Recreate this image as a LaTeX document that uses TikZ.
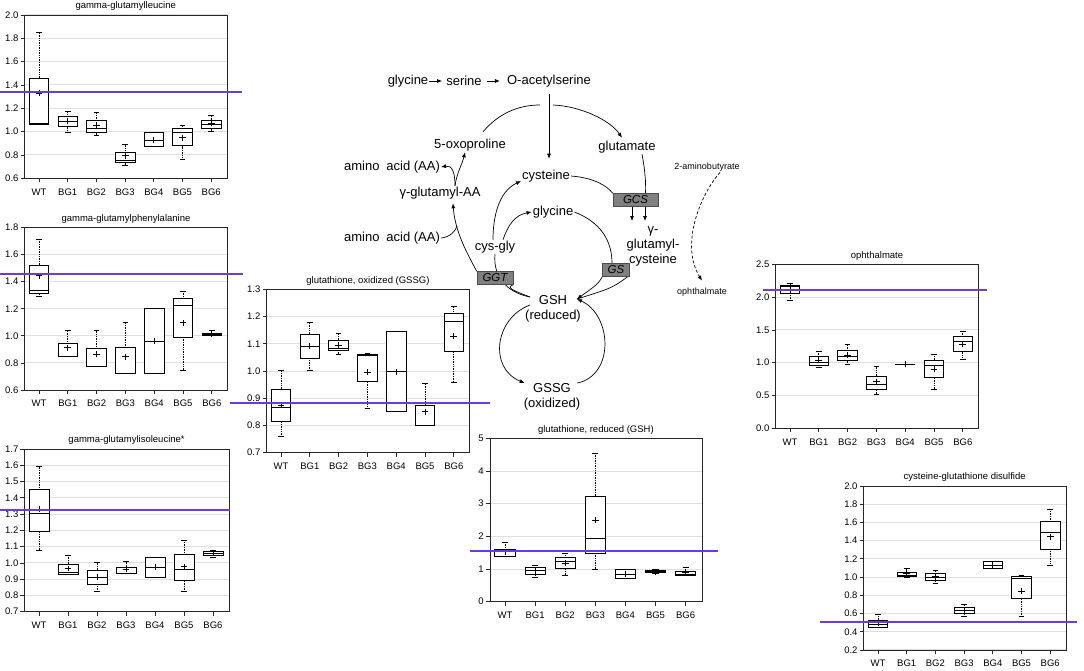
\documentclass[tikz,border=0pt]{standalone}
\usepackage{fontspec}
\setmainfont{Liberation Sans}
\usetikzlibrary{arrows.meta}
\definecolor{refline}{RGB}{105,60,225}
\definecolor{enzfill}{RGB}{128,128,128}
\pgfdeclarelayer{bg}
\pgfsetlayers{bg,main}

\tikzset{
  box/.style={line width=0.7pt},
  whisk/.style={line width=0.7pt, densely dotted},
  gline/.style={gray!25, line width=1pt},
  frm/.style={line width=0.8pt, black!85},
  ref/.style={draw=refline, line width=1.2pt},
  ylab/.style={anchor=east, inner xsep=6pt, inner ysep=0pt, font=\fontsize{9.5}{11}\selectfont},
  xlab/.style={anchor=north, inner ysep=10pt, inner xsep=0pt, font=\fontsize{9.5}{11}\selectfont},
  ctitle/.style={anchor=south, inner ysep=4pt, font=\fontsize{9.5}{11}\selectfont},
  met/.style={font=\fontsize{13}{15}\selectfont, inner sep=1pt, align=center},
  smet/.style={font=\fontsize{9}{11}\selectfont, inner sep=1pt},
  enz/.style={fill=enzfill, draw=black!70, minimum height=13pt, inner sep=0pt, font=\fontsize{11.5}{13}\selectfont\itshape},
  conn/.style={line width=0.7pt},
  arr/.style={conn, -{Latex[length=5pt,width=4pt]}},
}

% i, low, q1, median, q3, high, mean
\newcommand{\bp}[7]{%
  \draw[whisk] (#1,#2) -- (#1,#3) (#1,#5) -- (#1,#6);
  \draw[box] (#1-0.1,#2) -- (#1+0.1,#2) (#1-0.1,#6) -- (#1+0.1,#6);
  \draw[box, fill=white] (#1-0.34,#3) rectangle (#1+0.34,#5);
  \draw[box] (#1-0.34,#4) -- (#1+0.34,#4);
  \draw[box] (#1-0.12,#7) -- (#1+0.12,#7) (#1,#7-\ph) -- (#1,#7+\ph);
}
\newcommand{\yax}[1]{%
  \foreach \v [count=\k] in {#1} {
    \draw[gline] (-0.5,\v) -- (6.55,\v);
    \draw[frm] (-0.64,\v) -- (-0.5,\v);
    \node[ylab] (\cid y\k) at (-0.5,\v) {\v};
  }}
\newcommand{\xax}[1]{%
  \foreach \t [count=\k from 0] in {WT,BG1,BG2,BG3,BG4,BG5,BG6} {
    \draw[frm] (\k,#1) -- (\k,#1-1.3*\ph);
    \node[xlab] (\cid x\k) at (\k,#1) {\t};
  }}

\begin{document}
\begin{tikzpicture}[x=1pt,y=-1pt]
\useasboundingbox (0,0) rectangle (1084,670);

% gamma-glutamylleucine
\begin{scope}[shift={(39,248.3)},xscale=28.7,yscale=-116.7]
  \def\cid{ca}\def\ph{0.026}
  \yax{0.6,0.8,1.0,1.2,1.4,1.6,1.8,2.0}
  \draw[frm] (-0.5,0.6) rectangle (6.55,2.0);
  \xax{0.6}
  \node[ctitle] (cat) at (3.02,2.0) {gamma-glutamylleucine};
  \bp{0}{1.065}{1.065}{1.07}{1.46}{1.85}{1.33}
  \bp{1}{0.994}{1.043}{1.091}{1.129}{1.171}{1.09}
  \bp{2}{0.971}{0.997}{1.029}{1.094}{1.166}{1.057}
  \bp{3}{0.714}{0.734}{0.757}{0.823}{0.894}{0.794}
  \bp{4}{0.871}{0.871}{0.929}{0.991}{0.991}{0.929}
  \bp{5}{0.763}{0.880}{0.991}{1.029}{1.057}{0.949}
  \bp{6}{1.006}{1.031}{1.066}{1.1}{1.137}{1.071}
\end{scope}

% gamma-glutamylphenylalanine
\begin{scope}[shift={(39,471.4)},xscale=28.8,yscale=-135.6]
  \def\cid{cb}\def\ph{0.022}
  \yax{0.6,0.8,1.0,1.2,1.4,1.6,1.8}
  \draw[frm] (-0.5,0.6) rectangle (6.55,1.8);
  \xax{0.6}
  \node[ctitle] (cbt) at (3.02,1.8) {gamma-glutamylphenylalanine};
  \bp{0}{1.289}{1.313}{1.338}{1.522}{1.711}{1.443}
  \bp{1}{0.845}{0.845}{0.85}{0.944}{1.038}{0.912}
  \bp{2}{0.772}{0.772}{0.775}{0.907}{1.043}{0.863}
  \bp{3}{0.723}{0.723}{0.725}{0.912}{1.099}{0.846}
  \bp{4}{0.723}{0.723}{0.961}{1.202}{1.202}{0.961}
  \bp{5}{0.748}{0.989}{1.227}{1.276}{1.325}{1.096}
  \bp{6}{1.0}{1.0}{1.01}{1.02}{1.04}{1.01}
\end{scope}

% gamma-glutamylisoleucine*
\begin{scope}[shift={(39,725.6)},xscale=29,yscale=-162.7]
  \def\cid{cc}\def\ph{0.018}
  \yax{0.7,0.8,0.9,1.0,1.1,1.2,1.3,1.4,1.5,1.6,1.7}
  \draw[frm] (-0.5,0.7) rectangle (6.55,1.7);
  \xax{0.7}
  \node[ctitle] (cct) at (3.02,1.7) {gamma-glutamylisoleucine*};
  \bp{0}{1.079}{1.192}{1.305}{1.452}{1.595}{1.331}
  \bp{1}{0.93}{0.93}{0.94}{0.993}{1.044}{0.966}
  \bp{2}{0.823}{0.868}{0.911}{0.956}{1.001}{0.911}
  \bp{3}{0.936}{0.936}{0.938}{0.973}{1.011}{0.96}
  \bp{4}{0.911}{0.911}{0.973}{1.034}{1.034}{0.973}
  \bp{5}{0.823}{0.895}{0.962}{1.052}{1.141}{0.977}
  \bp{6}{1.034}{1.044}{1.059}{1.069}{1.075}{1.059}
\end{scope}

% glutathione, oxidized
\begin{scope}[shift={(281,643.2)},xscale=28.8,yscale=-272.2]
  \def\cid{cd}\def\ph{0.011}
  \yax{0.7,0.8,0.9,1.0,1.1,1.2,1.3}
  \draw[frm] (-0.5,0.7) rectangle (6.55,1.3);
  \xax{0.7}
  \node[ctitle] (cdt) at (3.02,1.3) {glutathione, oxidized (GSSG)};
  \bp{0}{0.759}{0.814}{0.867}{0.934}{1.004}{0.875}
  \bp{1}{1.001}{1.047}{1.092}{1.136}{1.179}{1.092}
  \bp{2}{1.062}{1.077}{1.085}{1.114}{1.138}{1.096}
  \bp{3}{0.863}{0.961}{1.058}{1.062}{1.065}{0.995}
  \bp{4}{0.85}{0.85}{0.997}{1.147}{1.147}{0.997}
  \bp{5}{0.80}{0.80}{0.80}{0.875}{0.955}{0.85}
  \bp{6}{0.96}{1.071}{1.181}{1.212}{1.239}{1.128}
\end{scope}

% glutathione, reduced
\begin{scope}[shift={(505,601.7)},xscale=30.1,yscale=-32.67]
  \def\cid{ce}\def\ph{0.092}
  \yax{0,1,2,3,4,5}
  \draw[frm] (-0.5,0) rectangle (6.55,5);
  \xax{0}
  \node[ctitle] (cet) at (3.02,5) {glutathione, reduced (GSH)};
  \bp{0}{1.378}{1.378}{1.40}{1.602}{1.806}{1.53}
  \bp{1}{0.735}{0.847}{0.97}{1.04}{1.122}{0.95}
  \bp{2}{0.816}{1.02}{1.224}{1.357}{1.48}{1.173}
  \bp{3}{1.0}{1.48}{1.939}{3.235}{4.54}{2.5}
  \bp{4}{0.714}{0.714}{0.847}{1.0}{1.0}{0.847}
  \bp{5}{0.867}{0.888}{0.918}{0.95}{0.98}{0.918}
  \bp{6}{0.80}{0.816}{0.85}{0.94}{1.04}{0.9}
\end{scope}

% ophthalmate
\begin{scope}[shift={(790,428.3)},xscale=28.8,yscale=-65.6]
  \def\cid{cf}\def\ph{0.046}
  \yax{0.0,0.5,1.0,1.5,2.0,2.5}
  \draw[frm] (-0.5,0) rectangle (6.55,2.5);
  \xax{0}
  \node[ctitle] (cft) at (3.02,2.5) {ophthalmate};
  \bp{0}{1.946}{2.058}{2.16}{2.185}{2.21}{2.109}
  \bp{1}{0.925}{0.965}{1.001}{1.093}{1.169}{1.042}
  \bp{2}{0.976}{1.031}{1.093}{1.184}{1.286}{1.118}
  \bp{3}{0.523}{0.595}{0.671}{0.798}{0.94}{0.711}
  \bp{4}{0.98}{0.98}{0.98}{0.98}{0.98}{0.98}
  \bp{5}{0.60}{0.778}{0.955}{1.04}{1.13}{0.9}
  \bp{6}{1.052}{1.179}{1.331}{1.397}{1.474}{1.28}
\end{scope}

% cysteine-glutathione disulfide
\begin{scope}[shift={(878,668.2)},xscale=28.7,yscale=-91.1]
  \def\cid{cg}\def\ph{0.033}
  \yax{0.2,0.4,0.6,0.8,1.0,1.2,1.4,1.6,1.8,2.0}
  \draw[frm] (-0.5,0.2) rectangle (6.55,2.0);
  \xax{0.2}
  \node[ctitle] (cgt) at (3.02,2.0) {cysteine-glutathione disulfide};
  \bp{0}{0.449}{0.449}{0.48}{0.529}{0.595}{0.5}
  \bp{1}{0.997}{1.005}{1.023}{1.049}{1.096}{1.04}
  \bp{2}{0.932}{0.968}{0.997}{1.041}{1.078}{1.005}
  \bp{3}{0.566}{0.602}{0.632}{0.668}{0.701}{0.632}
  \bp{4}{1.096}{1.096}{1.133}{1.17}{1.17}{1.133}
  \bp{5}{0.565}{0.767}{0.99}{1.004}{1.016}{0.847}
  \bp{6}{1.13}{1.305}{1.487}{1.608}{1.744}{1.443}
\end{scope}

% WT mean lines
\draw[ref] (0,92) -- (242,92);
\draw[ref] (0,274) -- (243,274);
\draw[ref] (0,510) -- (230,510);
\draw[ref] (230,403) -- (490,403);
\draw[ref] (470,551) -- (718,551);
\draw[ref] (763,290) -- (987,290);
\draw[ref] (820,622) -- (1077,622);

% pathway
\node[met] (gly1) at (408,81) {glycine};
\node[met] (ser) at (464,81) {serine};
\node[met] (oas) at (549,81) {O-acetylserine};
\node[met] (oxo) at (470,145) {5-oxoproline};
\node[met] (glu) at (627,147) {glutamate};
\node[met] (aa1) at (392,167) {amino\hspace{0.25em} acid (AA)};
\node[met] (cys) at (546,176) {cysteine};
\node[met] (gaa) at (440,193) {γ-glutamyl-AA};
\node[met] (gly2) at (553,212) {glycine};
\node[met] (aa2) at (392,238) {amino\hspace{0.25em} acid (AA)};
\node[met] (cgly) at (495,247) {cys-gly};
\node[enz, minimum width=45pt] (gcs) at (635.5,200) {GCS};
\node[met] (ggc) at (653,246) {γ-\\glutamyl-\\cysteine};
\node[enz, minimum width=27pt] (gs) at (616,270) {GS};
\node[enz, minimum width=36pt] (ggt) at (495,278) {GGT};
\node[met] (gsh) at (553,309) {GSH\\(reduced)};
\node[met] (gssg) at (552,397) {GSSG\\(oxidized)};
\node[smet] (abu) at (707,167) {2-aminobutyrate};
\node[smet] (oph) at (702,292) {ophthalmate};

\coordinate (arcl) at (540,105);
\coordinate (arcr) at (553,105);
\coordinate (gshl) at (530,297);
\coordinate (gshr) at (577,299);
\coordinate (join) at (457,226);

\begin{pgfonlayer}{bg}
\draw[arr, shorten >=3pt] (gly1.east) -- (ser.west);
\draw[arr, shorten <=4pt, shorten >=6pt] (ser.east) -- (oas.west);
\draw[arr, shorten <=6pt, shorten >=10pt] (oas.south) -- (oas.south |- cys.north);
\draw[conn] ([xshift=13pt,yshift=6pt]oxo.north) .. controls (500,112) and (520,105) .. (arcl);
\draw[arr] (arcr) .. controls (580,106) and (610,120) .. ([xshift=-5pt,yshift=2pt]glu.north);
\draw[arr] ([xshift=15pt]gaa.north) .. controls (455,172) and (452,165) .. (aa1.east);
\draw[arr] ([xshift=15pt]gaa.north) .. controls (457,172) and (462,165) .. ([xshift=-5pt]oxo.south);
\draw[conn] (gshl) .. controls (515,291) and (505,288) .. (ggt.south east);
\draw[arr] (ggt.north west) .. controls (468,255) and (455,232) .. ([xshift=13pt,yshift=-3pt]gaa.south);
\draw[conn] (aa2.east) .. controls (450,237) and (455,232) .. (join);
\draw[conn] (gshl) .. controls (505,292) and (493,275) .. (cgly.south);
\draw[arr] ([xshift=-2pt]cgly.north) .. controls (493,218) and (498,192) .. ([yshift=-5pt]cys.west);
\draw[arr] ([xshift=8pt]cgly.north) .. controls (508,225) and (515,215) .. (gly2.west);
\draw[conn] (cys.east) .. controls (595,178) and (607,186) .. (gcs.north west);
\draw[conn] ([xshift=15pt]glu.south) .. controls (645,170) and (646,182) .. ([xshift=10pt]gcs.north);
\draw[arr] ([xshift=-3.5pt]gcs.south) -- ([xshift=-21pt,yshift=4pt]ggc.north);
\draw[arr] ([xshift=9.5pt]gcs.south) -- ([xshift=-8pt,yshift=4pt]ggc.north);
\draw[conn] (gly2.east) .. controls (600,222) and (612,240) .. ([xshift=-4pt]gs.north);
\draw[arr] (gs.south west) .. controls (598,284) .. (gshr);
\draw[conn] ([xshift=-2pt]gs.south east) .. controls (612,288) .. (gshr);
\draw[arr] ([xshift=6pt,yshift=4pt]gsh.west) .. controls (495,318) and (488,368) .. ([xshift=2pt,yshift=14pt]gssg.west);
\draw[arr] ([xshift=-4pt,yshift=14pt]gssg.east) .. controls (615,375) and (612,315) .. (gshr);
\draw[arr, densely dashed] ([xshift=13pt]abu.south) .. controls (700,195) and (680,245) .. ([yshift=6pt]oph.north);
\end{pgfonlayer}
\end{tikzpicture}
\end{document}
